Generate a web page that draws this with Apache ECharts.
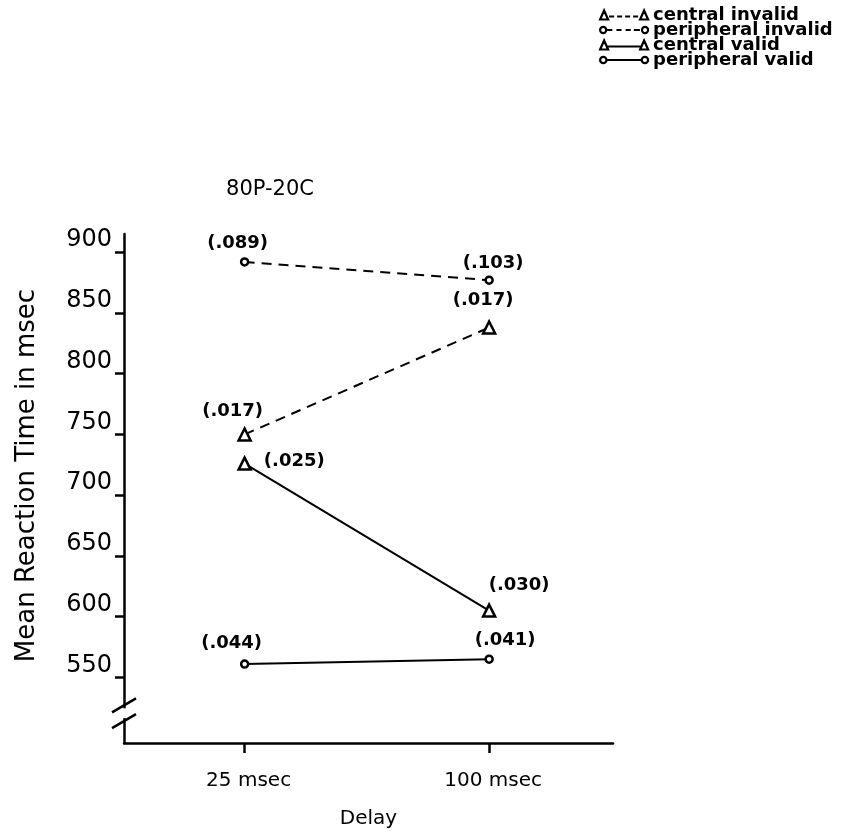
<!DOCTYPE html>
<html>
<head>
<meta charset="utf-8">
<script src="https://cdn.jsdelivr.net/npm/echarts@6/dist/echarts.min.js"></script>
<style>html,body{margin:0;padding:0;background:#fff;}#c{width:853px;height:838px;}</style>
</head>
<body>
<div id="c"></div>
<script>
// ---- data ----
const delays = [25, 100];
const xTickLabels = ['25 msec', '100 msec'];
const yTicks = [550, 600, 650, 700, 750, 800, 850, 900];
const seriesNames = ['central invalid', 'peripheral invalid', 'central valid', 'peripheral valid'];
const centralInvalid = [750, 838];
const peripheralInvalid = [892, 877];
const centralValid = [726, 605];
const peripheralValid = [561, 565];
const centralInvalidSE = ['(.017)', '(.017)'];
const peripheralInvalidSE = ['(.089)', '(.103)'];
const centralValidSE = ['(.025)', '(.030)'];
const peripheralValidSE = ['(.044)', '(.041)'];

const chart = echarts.init(document.getElementById('c'), null, {renderer: 'canvas'});
const FONT = 'DejaVu Sans';

function mk(name, vals, ses, dashed, symbol, labelCfg) {
  return {
    name: name, type: 'line',
    data: vals.map((v, i) => ({
      value: [delays[i], v],
      label: Object.assign({show: true, formatter: ses[i]}, labelCfg[i])
    })),
    symbol: symbol,
    symbolSize: symbol === 'triangle' ? 12 : 7,
    showSymbol: true,
    lineStyle: {color: '#000', width: 2, type: dashed ? [10, 7] : 'solid'},
    itemStyle: {color: '#fff', borderColor: '#000', borderWidth: 2.5},
    label: {color: '#000', fontFamily: FONT, fontSize: 18, fontWeight: 'bold'},
    z: 3
  };
}

const triD = 'path://M0,11L4,2L8,11ZM9,8L14,8M17,8L22,8M25,8L30,8M33,8L38,8M40,11L44,2L48,11Z';
const cirD = 'path://M0,7a3,3 0 1,0 6,0a3,3 0 1,0 -6,0ZM7,7L12,7M16,7L21,7M25,7L30,7M33,7L39,7M41,7a3,3 0 1,0 6,0a3,3 0 1,0 -6,0Z';
const triS = 'path://M0,11L4,2L8,11ZM6,8L42,8M40,11L44,2L48,11Z';
const cirS = 'path://M3,7a3,3 0 1,0 6,0a3,3 0 1,0 -6,0ZM9,7L42,7M42,7a3,3 0 1,0 6,0a3,3 0 1,0 -6,0Z';
const legIcons = [triD, cirD, triS, cirS];

const option = {
  backgroundColor: '#fff',
  animation: false,
  title: {
    text: '80P-20C', left: 265, top: 174, textAlign: 'center',
    textStyle: {fontFamily: FONT, fontSize: 21, fontWeight: 'normal', color: '#000'}
  },
  legend: {
    orient: 'vertical', left: 594, top: 1,
    itemWidth: 48, itemHeight: 12, itemGap: -3,
    data: seriesNames.map((n, i) => ({
      name: n, icon: legIcons[i],
      itemStyle: {color: 'rgba(0,0,0,0)', borderColor: '#000', borderWidth: 2.2}
    })),
    textStyle: {fontFamily: FONT, fontWeight: 'bold', fontSize: 18, color: '#000', lineHeight: 14},
    selectedMode: false
  },
  grid: {left: 124, right: 240, top: 234, bottom: 95, containLabel: false},
  xAxis: {
    type: 'value', min: -12, max: 138,
    name: 'Delay', nameLocation: 'middle', nameGap: 66,
    nameTextStyle: {fontFamily: FONT, fontSize: 20, color: '#000'},
    axisLine: {show: true, onZero: false, lineStyle: {color: '#000', width: 2.5}},
    axisTick: {show: true, length: 10, lineStyle: {color: '#000', width: 2.5}, customValues: delays},
    axisLabel: {
      customValues: delays, margin: 28,
      formatter: v => xTickLabels[delays.indexOf(v)] || '',
      fontFamily: FONT, fontSize: 20, color: '#000', padding: [0, 0, 0, 8]
    },
    splitLine: {show: false}
  },
  yAxis: {
    type: 'value', min: 496, max: 915,
    name: 'Mean Reaction Time in msec', nameLocation: 'middle', nameGap: 84,
    nameTextStyle: {fontFamily: FONT, fontSize: 26, color: '#000', padding: [0, 0, 0, 26]},
    axisLine: {show: true, onZero: false, lineStyle: {color: '#000', width: 2.5}},
    axisTick: {show: true, length: 9, lineStyle: {color: '#000', width: 2.5}, customValues: yTicks},
    axisLabel: {
      customValues: yTicks, margin: 12,
      fontFamily: FONT, fontSize: 24, color: '#000', verticalAlign: 'bottom', lineHeight: 24
    },
    splitLine: {show: false}
  },
  series: [
    mk(seriesNames[0], centralInvalid, centralInvalidSE, true, 'triangle',
       [{position: 'top', offset: [-12, -2]}, {position: 'top', offset: [-6, -6]}]),
    mk(seriesNames[1], peripheralInvalid, peripheralInvalidSE, true, 'circle',
       [{position: 'top', offset: [-7, 0]}, {position: 'top', offset: [4, 2]}]),
    mk(seriesNames[2], centralValid, centralValidSE, false, 'triangle',
       [{position: 'right', distance: 12, offset: [0, -2]}, {position: 'top', offset: [30, -4]}]),
    mk(seriesNames[3], peripheralValid, peripheralValidSE, false, 'circle',
       [{position: 'top', offset: [-13, -2]}, {position: 'top', offset: [16, 0]}])
  ]
};
chart.setOption(option);

// axis break marks on the y axis (decoration), placed via the axis scale
const bx = chart.convertToPixel({xAxisIndex: 0}, -12);
const by1 = chart.convertToPixel({yAxisIndex: 0}, 527);
const by2 = chart.convertToPixel({yAxisIndex: 0}, 514);
chart.setOption({
  graphic: [
    {type: 'rect', shape: {x: bx - 4, y: by1 + 3, width: 8, height: by2 - by1 - 6}, style: {fill: '#fff'}, z: 10},
    {type: 'line', shape: {x1: bx - 12, y1: by1 + 7, x2: bx + 12, y2: by1 - 7}, style: {stroke: '#000', lineWidth: 2.5}, z: 11},
    {type: 'line', shape: {x1: bx - 12, y1: by2 + 7, x2: bx + 12, y2: by2 - 7}, style: {stroke: '#000', lineWidth: 2.5}, z: 11}
  ]
});
</script>
</body>
</html>
